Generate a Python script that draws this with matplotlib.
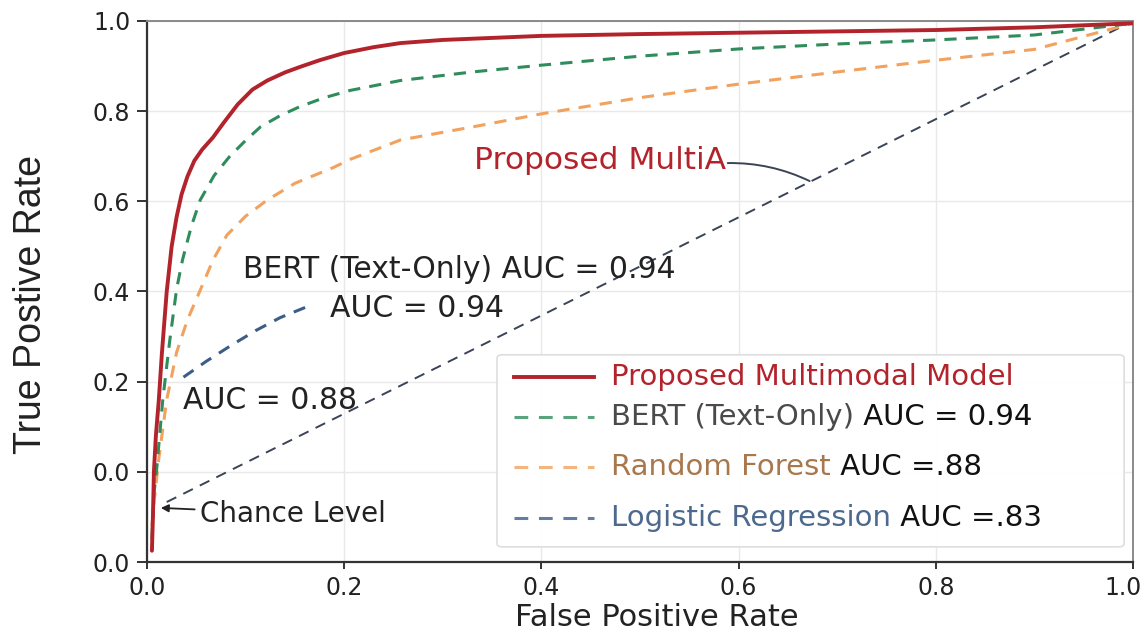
import matplotlib
matplotlib.use("Agg")
import matplotlib.pyplot as plt
from matplotlib.lines import Line2D
from matplotlib.patches import FancyBboxPatch
from matplotlib.transforms import ScaledTranslation

# ---------------- data ----------------
mm_fpr = [0.005, 0.006, 0.007, 0.009, 0.012, 0.015, 0.020, 0.025, 0.030, 0.035, 0.041, 0.048,
          0.056, 0.067, 0.078, 0.092, 0.107, 0.122, 0.140, 0.155, 0.175, 0.200, 0.230, 0.257,
          0.30, 0.40, 0.50, 0.60, 0.70, 0.80, 0.90, 1.00]
mm_tpr = [-0.175, -0.10, 0.00, 0.08, 0.16, 0.26, 0.40, 0.50, 0.565, 0.615, 0.655, 0.69,
          0.715, 0.742, 0.775, 0.815, 0.848, 0.868, 0.886, 0.898, 0.913, 0.929, 0.942, 0.951,
          0.958, 0.967, 0.971, 0.974, 0.977, 0.980, 0.986, 0.995]

bert_fpr = [0.005, 0.007, 0.010, 0.016, 0.023, 0.030, 0.036, 0.045, 0.054, 0.068, 0.084, 0.100,
            0.115, 0.135, 0.155, 0.180, 0.206, 0.257, 0.330, 0.400, 0.500, 0.600, 0.700, 0.800,
            0.900, 1.000]
bert_tpr = [-0.15, -0.05, 0.01, 0.16, 0.29, 0.405, 0.47, 0.545, 0.603, 0.657, 0.70, 0.735,
            0.765, 0.79, 0.81, 0.83, 0.846, 0.868, 0.887, 0.902, 0.922, 0.938, 0.949, 0.958,
            0.969, 0.995]

rf_fpr = [0.005, 0.008, 0.012, 0.020, 0.030, 0.041, 0.054, 0.067, 0.081, 0.100, 0.122, 0.150,
          0.189, 0.206, 0.257, 0.330, 0.400, 0.500, 0.600, 0.700, 0.800, 0.900, 1.000]
rf_tpr = [-0.12, -0.05, 0.03, 0.16, 0.265, 0.337, 0.403, 0.47, 0.525, 0.567, 0.603, 0.64,
          0.675, 0.693, 0.736, 0.765, 0.794, 0.83, 0.86, 0.887, 0.913, 0.937, 0.995]

lr_fpr = [0.037, 0.060, 0.085, 0.110, 0.135, 0.162]
lr_tpr = [0.21, 0.245, 0.28, 0.313, 0.342, 0.366]

chance_fpr = [0.02, 1.0]
chance_tpr = [-0.067, 1.0]

x_ticks = [0.0, 0.2, 0.4, 0.6, 0.8, 1.0]
x_ticklabels = ["0.0", "0.2", "0.4", "0.6", "0.8", "1.0"]
y_ticks = [-0.2, 0.0, 0.2, 0.4, 0.6, 0.8, 1.0]
y_ticklabels = ["0.0", "0.0", "0.2", "0.4", "0.6", "0.8", "1.0"]

legend_names = ["Proposed Multimodal Model", "BERT (Text-Only)", "Random Forest", "Logistic Regression"]
legend_aucs = ["", " AUC = 0.94", " AUC =.88", " AUC =.83"]

# ---------------- style ----------------
RED = "#b3232c"
GREEN = "#2f8c5c"
ORANGE = "#f2a25e"
BLUE = "#3d5d88"
CHANCE = "#3a4456"
TXT = "#222222"

plt.rcParams["font.family"] = ["DejaVu Sans"]

fig = plt.figure(figsize=(11.42, 6.32), dpi=100)
ax = fig.add_axes([147 / 1142, 70 / 632, 986 / 1142, 541 / 632])

ax.set_xlim(0, 1.0)
ax.set_ylim(-0.2, 1.0)

ax.grid(True, color="#e9e9e9", lw=1.0, zorder=0)
ax.set_axisbelow(True)

ax.plot(chance_fpr, chance_tpr, color=CHANCE, lw=1.4, dashes=(5.5, 4), zorder=2)
ax.plot(rf_fpr, rf_tpr, color=ORANGE, lw=2.2, dashes=(4, 3), zorder=3)
ax.plot(bert_fpr, bert_tpr, color=GREEN, lw=2.2, dashes=(4, 3), zorder=4)
ax.plot(lr_fpr, lr_tpr, color=BLUE, lw=2.2, dashes=(4, 3), zorder=4)
ax.plot(mm_fpr, mm_tpr, color=RED, lw=2.8, zorder=5, solid_capstyle="round",
        solid_joinstyle="round")

ax.set_xticks(x_ticks)
ax.set_xticklabels(x_ticklabels)
ax.set_yticks(y_ticks)
ax.set_yticklabels(y_ticklabels)
ax.tick_params(axis="both", labelsize=17, colors="#333333", width=1.4, labelcolor="#222222")
ax.tick_params(axis="y", length=7, pad=5)
ax.tick_params(axis="x", length=5, pad=5)
lastlab = ax.get_xticklabels()[-1]
lastlab.set_transform(lastlab.get_transform() + ScaledTranslation(-10 / 100, 0, fig.dpi_scale_trans))

for s in ["left", "bottom"]:
    ax.spines[s].set_color("#333333")
    ax.spines[s].set_linewidth(1.6)
for s in ["top", "right"]:
    ax.spines[s].set_color("#8a8a8a")
    ax.spines[s].set_linewidth(1.4)

fig.text(657 / 1142, (632 - 626) / 632, "False Positive Rate", fontsize=22, color=TXT,
         ha="center", va="baseline")
fig.text(31 / 1142, (632 - 305) / 632, "True Postive Rate", fontsize=27, color=TXT,
         family=["Liberation Sans"], rotation=90, ha="center", va="center")

# ---------------- annotations ----------------
tp = ax.text(0.332, 0.69, "Proposed MultiA", color=RED, fontsize=22.5, ha="left", va="center", zorder=6)
ax.annotate("", xy=(0.672, 0.645), xytext=(1.0, 0.42), textcoords=tp,
            arrowprops=dict(arrowstyle="-", color=CHANCE, lw=1.4, shrinkA=1, shrinkB=0,
                            connectionstyle="arc3,rad=-0.12"))
ax.text(0.097, 0.448, "BERT (Text-Only) AUC = 0.94", color=TXT, fontsize=21.5, ha="left", va="center", zorder=6)
ax.text(0.186, 0.363, "AUC = 0.94", color=TXT, fontsize=21.5, ha="left", va="center", zorder=6)
ax.text(0.037, 0.159, "AUC = 0.88", color=TXT, fontsize=21.5, ha="left", va="center", zorder=6)
ax.annotate("Chance Level", xy=(0.014, -0.08), xytext=(0.054, -0.093), color=TXT, fontsize=20,
            ha="left", va="center",
            arrowprops=dict(arrowstyle="-|>", color=TXT, lw=1.3, mutation_scale=11,
                            shrinkA=2, shrinkB=0))

# ---------------- legend (manual) ----------------
box = FancyBboxPatch((0.355, 0.028), 0.636, 0.355, boxstyle="round,pad=0,rounding_size=0.006",
                     transform=ax.transAxes, facecolor="white", edgecolor="#dddddd", lw=1.2,
                     zorder=7, alpha=0.97)
ax.add_patch(box)

row_y = [0.342, 0.268, 0.176, 0.081]
row_colors = [RED, GREEN, ORANGE, BLUE]
name_colors = [RED, "#4a4a4a", "#a8774c", "#4d6a8e"]
for i in range(4):
    if i == 0:
        ln = Line2D([0.372, 0.453], [row_y[i], row_y[i]], transform=ax.transAxes,
                    color=row_colors[i], lw=2.8, zorder=8)
    else:
        ln = Line2D([0.372, 0.453], [row_y[i], row_y[i]], transform=ax.transAxes,
                    color=row_colors[i], lw=2.2, dashes=(4.5, 3.5), zorder=8, alpha=0.8)
    ax.add_line(ln)
    t = ax.text(0.471, row_y[i], legend_names[i], transform=ax.transAxes, color=name_colors[i],
                fontsize=21, ha="left", va="center", zorder=9)
    if legend_aucs[i]:
        ax.annotate(legend_aucs[i], xy=(1.0, 0.5), xycoords=t, color="#111111", fontsize=21,
                    ha="left", va="center", zorder=9)

fig.savefig("out.png", dpi=100)
